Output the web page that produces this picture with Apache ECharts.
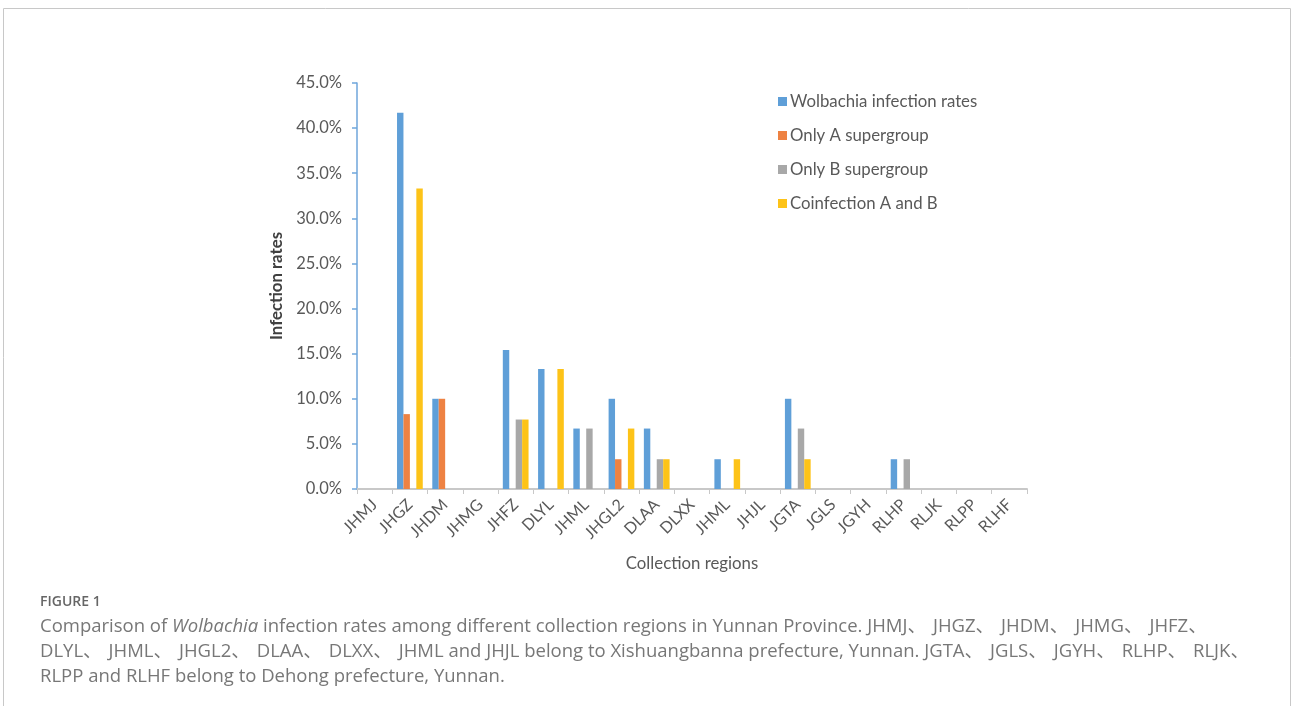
<!DOCTYPE html>
<html>
<head>
<meta charset="utf-8">
<script src="https://cdn.jsdelivr.net/npm/echarts@6/dist/echarts.min.js"></script>
<style>
  html, body { margin: 0; padding: 0; background: #fff; }
  #chart { width: 1295px; height: 706px; }
</style>
</head>
<body>
<div id="chart"></div>
<script>
// Collection regions (x-axis categories)
const regions = ['JHMJ', 'JHGZ', 'JHDM', 'JHMG', 'JHFZ', 'DLYL', 'JHML', 'JHGL2', 'DLAA', 'DLXX',
                 'JHML', 'JHJL', 'JGTA', 'JGLS', 'JGYH', 'RLHP', 'RLJK', 'RLPP', 'RLHF'];

// Infection rates in percent, one entry per region
const wolbachiaRates = [0, 41.7, 10.0, 0, 15.4, 13.3, 6.7, 10.0, 6.7, 0, 3.3, 0, 10.0, 0, 0, 3.3, 0, 0, 0];
const onlyA          = [0, 8.3, 10.0, 0, 0, 0, 0, 3.3, 0, 0, 0, 0, 0, 0, 0, 0, 0, 0, 0];
const onlyB          = [0, 0, 0, 0, 7.7, 0, 6.7, 0, 3.3, 0, 0, 0, 6.7, 0, 0, 3.3, 0, 0, 0];
const coinfection    = [0, 33.3, 0, 0, 7.7, 13.3, 0, 6.7, 3.3, 0, 3.3, 0, 3.3, 0, 0, 0, 0, 0, 0];

const seriesNames = ['Wolbachia infection rates', 'Only A supergroup', 'Only B supergroup', 'Coinfection A and B'];
const seriesColors = ['#5F9FD8', '#EE8242', '#A8A8A8', '#FDC318'];

// y-axis scale (percent)
const yMax = 45, yStep = 5;

// Figure caption; {i|...} is italic, {c|、} is the enumeration comma
const captionLines = [
  'Comparison of {i|Wolbachia} infection rates among different collection regions in Yunnan Province. JHMJ{c|、}JHGZ{c|、}JHDM{c|、}JHMG{c|、}JHFZ{c|、}',
  'DLYL{c|、}JHML{c|、}JHGL2{c|、}DLAA{c|、}DLXX{c|、}JHML and JHJL belong to Xishuangbanna prefecture, Yunnan. JGTA{c|、}JGLS{c|、}JGYH{c|、}RLHP{c|、}RLJK{c|、}',
  'RLPP and RLHF belong to Dehong prefecture, Yunnan.'
];

const chart = echarts.init(document.getElementById('chart'));
const txt = '#595959';
const font = 'Lato, "Noto Sans", sans-serif';
const capFont = '"Open Sans", "Noto Sans CJK SC", sans-serif';
const capSize = 18.5;

const dataSets = [wolbachiaRates, onlyA, onlyB, coinfection];
const series = dataSets.map((d, i) => ({
  name: seriesNames[i],
  type: 'bar',
  data: d,
  barGap: '0%',
  barCategoryGap: '27%',
  itemStyle: { color: seriesColors[i] },
  emphasis: { disabled: true }
}));

const captionGraphics = captionLines.map((line, i) => ({
  type: 'text',
  x: 40,
  y: 627 + i * 24.7,
  style: {
    text: line,
    fill: '#777',
    fontSize: capSize,
    fontFamily: capFont,
    verticalAlign: 'middle',
    rich: {
      i: { fontStyle: 'italic', fill: '#777', fontSize: capSize, fontFamily: capFont },
      c: { fill: '#777', fontSize: capSize, fontFamily: capFont, padding: [0, 7, 0, 0] }
    }
  }
}));

chart.setOption({
  animation: false,
  textStyle: { fontFamily: font },
  grid: { left: 357, right: 268, top: 83, bottom: 217, containLabel: false },
  legend: {
    orient: 'vertical',
    left: 773,
    top: 88,
    itemWidth: 9,
    itemHeight: 9,
    itemGap: 17,
    icon: 'rect',
    textStyle: { color: txt, fontSize: 16.8, fontFamily: font, padding: [0, 0, 0, -2] },
    data: seriesNames
  },
  xAxis: {
    type: 'category',
    data: regions,
    name: 'Collection regions',
    nameLocation: 'middle',
    nameGap: 66,
    nameTextStyle: { color: txt, fontSize: 16.8, fontFamily: font },
    axisLine: { lineStyle: { color: '#C8C8C8', width: 2 } },
    axisTick: { show: true, length: 5, lineStyle: { color: '#C8C8C8', width: 1 } },
    axisLabel: { rotate: 45, color: txt, fontSize: 16, margin: 13, interval: 0 }
  },
  yAxis: {
    type: 'value',
    min: 0,
    max: yMax,
    interval: yStep,
    name: 'Infection rates',
    nameLocation: 'middle',
    nameGap: 59,
    nameRotate: 90,
    nameTextStyle: { color: '#404040', fontSize: 16.8, fontWeight: 'bold', fontFamily: font },
    axisLine: { show: true, lineStyle: { color: '#6FA6DB', width: 1.5 } },
    axisTick: { show: true, length: 5, lineStyle: { color: '#6FA6DB', width: 1.5 } },
    splitLine: { show: false },
    axisLabel: { color: txt, fontSize: 16.5, margin: 15, formatter: v => v.toFixed(1) + '%' }
  },
  series: series,
  graphic: [
    {
      type: 'polyline',
      shape: { points: [[3.5, 706], [3.5, 8.5], [1290.5, 8.5], [1290.5, 706]] },
      style: { stroke: '#C8C8C8', lineWidth: 1, fill: null }
    },
    {
      type: 'text',
      x: 40,
      y: 602,
      style: { text: 'FIGURE 1', fill: '#666', fontSize: 14, fontWeight: 600, fontFamily: capFont, verticalAlign: 'middle' }
    }
  ].concat(captionGraphics)
});
</script>
</body>
</html>
